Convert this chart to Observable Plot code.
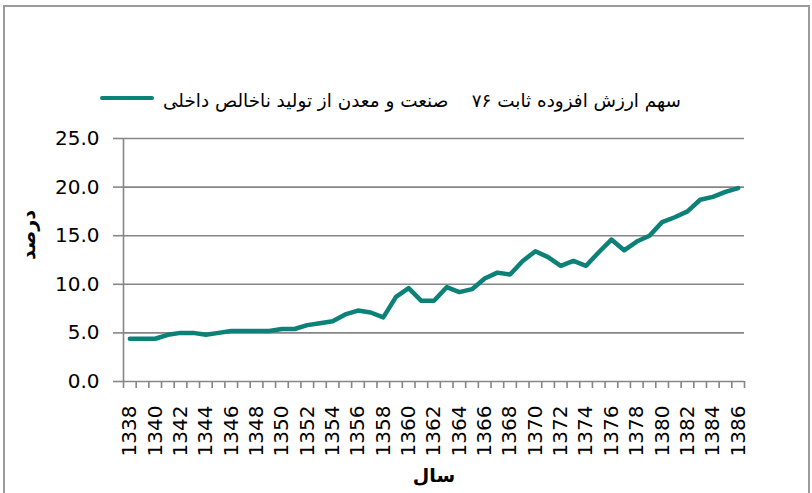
<!DOCTYPE html>
<html>
<head>
<meta charset="utf-8">
<script src="https://cdn.jsdelivr.net/npm/d3@7"></script>
<script src="https://cdn.jsdelivr.net/npm/@observablehq/plot@0.6"></script>
<style>
  html, body { margin: 0; padding: 0; background: #fff; }
  body { width: 812px; height: 493px; overflow: hidden; position: relative; font-family: "DejaVu Sans", sans-serif; }
  #frame { position: absolute; left: 3px; top: 5px; width: 803px; height: 520px; border: 2px solid #9a9a9a; box-sizing: content-box; }
  #legend { position: absolute; left: 100px; top: 88px; height: 24px; display: flex; align-items: center; white-space: pre; }
  #legend .swatch { width: 54px; height: 4px; background: #0b8178; border-radius: 2px; margin-right: 9px; margin-top: -5px; }
  #legend .txt { font-size: 18.4px; color: #000; }
  #chart { position: absolute; left: 0; top: 120px; }
</style>
</head>
<body>
<div id="frame"></div>
<div id="legend"><div class="swatch"></div><span class="txt" dir="rtl"></span></div>
<div id="chart"></div>
<script>
// ---- data ----
const years = [1338,1339,1340,1341,1342,1343,1344,1345,1346,1347,1348,1349,1350,1351,1352,1353,1354,1355,1356,1357,1358,1359,1360,1361,1362,1363,1364,1365,1366,1367,1368,1369,1370,1371,1372,1373,1374,1375,1376,1377,1378,1379,1380,1381,1382,1383,1384,1385,1386];
const shareValues = [4.4,4.4,4.4,4.8,5.0,5.0,4.8,5.0,5.2,5.2,5.2,5.2,5.4,5.4,5.8,6.0,6.2,6.9,7.3,7.1,6.6,8.7,9.6,8.3,8.3,9.7,9.2,9.5,10.6,11.2,11.0,12.4,13.4,12.8,11.9,12.4,11.9,13.3,14.6,13.5,14.4,15.0,16.4,16.9,17.5,18.7,19.0,19.5,19.9];
const xTickLabels = [1338,1340,1342,1344,1346,1348,1350,1352,1354,1356,1358,1360,1362,1364,1366,1368,1370,1372,1374,1376,1378,1380,1382,1384,1386];
const yTickValues = [0,5,10,15,20,25];
const seriesName = "سهم ارزش افزوده ثابت ۷۶    صنعت و معدن از تولید ناخالص داخلی";
const yTitle = "درصد";
const xTitle = "سال";

// ---- build ----
const rows = years.map((y, i) => ({year: y, value: shareValues[i]}));
const boundaries = years.map(y => y - 0.5).concat([years[years.length - 1] + 0.5]);
const grey = "#868686";
const teal = "#0b8178";
const font = "DejaVu Sans, sans-serif";

document.querySelector("#legend .txt").textContent = seriesName;

const chart = Plot.plot({
  width: 812,
  height: 373,
  marginLeft: 123,
  marginRight: 68,
  marginTop: 18,
  marginBottom: 112,
  style: {fontFamily: font, background: "transparent", overflow: "visible"},
  x: {type: "linear", domain: [boundaries[0], boundaries[boundaries.length - 1]], label: null},
  y: {domain: [0, 25], label: null},
  marks: [
    Plot.gridY(yTickValues.slice(1), {stroke: grey, strokeOpacity: 1, strokeWidth: 1.6}),
    Plot.ruleY([0], {stroke: grey, strokeWidth: 1.6}),
    Plot.ruleX([boundaries[0]], {stroke: grey, strokeWidth: 1.6}),
    Plot.axisY(yTickValues, {tickSize: 10, tickPadding: 14, tickFormat: d => d.toFixed(1), fontSize: 20, stroke: grey, strokeWidth: 1.6, fill: "#000", label: null}),
    Plot.axisX(boundaries, {tickSize: 7, tickFormat: () => "", stroke: grey, strokeWidth: 1.6, label: null}),
    Plot.axisX(xTickLabels, {tickSize: 0, tickPadding: 24, tickRotate: -90, tickFormat: d => String(d), fontSize: 20, fill: "#000", label: null}),
    Plot.lineY(rows, {x: "year", y: "value", stroke: teal, strokeWidth: 4.5, strokeLinejoin: "round", strokeLinecap: "round"}),
    Plot.text([yTitle], {frameAnchor: "left", dx: -95, rotate: -90, fontWeight: "bold", fontSize: 19, fill: "#000"}),
    Plot.text([xTitle], {frameAnchor: "bottom", dy: 100, fontWeight: "bold", fontSize: 19, fill: "#000"})
  ]
});
document.getElementById("chart").appendChild(chart);
</script>
</body>
</html>
